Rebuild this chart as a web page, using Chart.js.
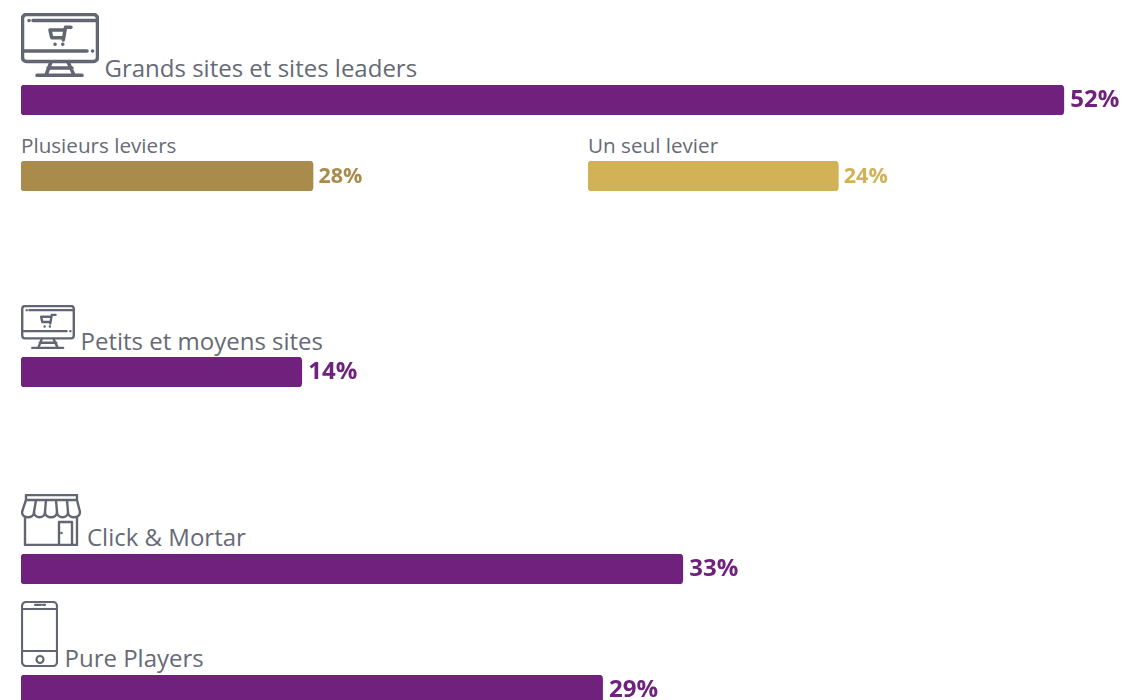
<!DOCTYPE html>
<html lang="fr">
<head>
<meta charset="utf-8">
<title>Grands sites et sites leaders</title>
<script src="https://cdn.jsdelivr.net/npm/chart.js@4"></script>
<style>
    html, body { margin: 0; padding: 0; background: #fff; }
    body { position: relative; width: 1122px; height: 700px; overflow: hidden; font-family: 'Open Sans', sans-serif; color: #666a76; }
    canvas { position: absolute; display: block; }
    svg { position: absolute; fill: none; stroke: #626672; stroke-width: 3.5; stroke-linecap: round; stroke-linejoin: round; }
    .label { position: absolute; white-space: nowrap; line-height: 30px; font-size: 24px; }
    .label.sub { font-size: 20.65px; }

    /* Rows */
    #label-0 { left: 104.5px; top: 53px; }
    #label-1 { left: 80.5px; top: 326px; }
    #label-2 { left: 87px; top: 522px; }
    #label-3 { left: 64.5px; top: 643px; }
    #sub-label-0 { left: 21px; top: 130px; }
    #sub-label-1 { left: 588px; top: 130px; }

    #bar-0 { left: 21px; top: 85px; }
    #bar-1 { left: 21px; top: 357px; }
    #bar-2 { left: 21px; top: 554px; }
    #bar-3 { left: 21px; top: 675px; }
    #sub-bar-0 { left: 21px; top: 161px; }
    #sub-bar-1 { left: 588px; top: 161px; }

    /* Icons */
    #icon-large { left: 21px; top: 13px; width: 78px; height: 64px; }
    #icon-small { left: 21px; top: 305px; width: 54px; height: 44px; }
    #icon-store { left: 21px; top: 494px; width: 60px; height: 52px; stroke-width: 2.4; }
    #icon-phone { left: 21px; top: 601px; width: 37px; height: 66px; stroke-width: 2.2; }
</style>
</head>
<body>
    <svg width="0" height="0" style="position:absolute">
        <symbol id="monitor" viewBox="0 0 78 64">
            <rect x="1.5" y="1.5" width="75" height="47" rx="4"/>
            <path d="M12 7.5H75M8 7.5H8.1M1.5 38H66M71.5 38H71.6"/>
            <path d="M30 49L25 62M47 49L53 62M16 62.3H61M27 55H51"/>
            <path d="M50 14.3H44.5L42.3 27M29 17H43.8M29 17L30.7 24.7H42.3M34 31.3H34.1M41.7 31.3H41.8"/>
        </symbol>
    </svg>

    <svg id="icon-large"><use href="#monitor"/></svg>
    <svg id="icon-small"><use href="#monitor"/></svg>
    <svg id="icon-store" viewBox="0 0 60 52">
        <path d="M5 1H56V6H5ZM5 6L1 18M56 6L59 18M15 6L13 18M25 6L24 18M35 6L36 18M46 6L47 18"/>
        <path d="M1 18C1 25 13 25 13 18C13 25 24 25 24 18C24 25 36 25 36 18C36 25 47 25 47 18C47 25 59 25 59 18"/>
        <path d="M4 23V51H56V23M38 51V28H51V51M40.5 39H40.6"/>
    </svg>
    <svg id="icon-phone" viewBox="0 0 37 66">
        <rect x="1" y="1" width="35" height="64" rx="4"/>
        <path d="M1 8H36M1 50H36M14 3.8H20M22 3.8H24"/>
        <circle cx="19" cy="58.5" r="3.5"/>
    </svg>

    <div class="label" id="label-0"></div>
    <div class="label" id="label-1"></div>
    <div class="label" id="label-2"></div>
    <div class="label" id="label-3"></div>
    <div class="label sub" id="sub-label-0"></div>
    <div class="label sub" id="sub-label-1"></div>

    <canvas id="bar-0"></canvas>
    <canvas id="bar-1"></canvas>
    <canvas id="bar-2"></canvas>
    <canvas id="bar-3"></canvas>
    <canvas id="sub-bar-0"></canvas>
    <canvas id="sub-bar-1"></canvas>

<script>
// Chart values
const mainLabels = ['Grands sites et sites leaders', 'Petits et moyens sites', 'Click & Mortar', 'Pure Players'];
const mainValues = [52, 14, 33, 29];
const subLabels = ['Plusieurs leviers', 'Un seul levier'];
const subValues = [28, 24];
const subColors = ['#a98b4c', '#d1b257'];

const PURPLE = '#6f217d';
const BAR_HEIGHT = 30;

// Percent label drawn just after the end of the bar
const valueLabelPlugin = {
    id: 'valueLabel',
    afterDatasetsDraw: (chart, args, opts) => {
        const bar = chart.getDatasetMeta(0).data[0];
        const ctx = chart.ctx;
        ctx.save();
        ctx.font = `bold ${opts.size}px "Open Sans"`;
        ctx.fillStyle = opts.color;
        ctx.textBaseline = 'middle';
        ctx.fillText(chart.data.datasets[0].data[0] + '%', bar.x + opts.gap, bar.y + 0.6);
        ctx.restore();
    }
};

// One single-bar chart per row, the axes stay hidden
const drawBar = (id, name, value, color, width, maxValue, fontSize, gap) => {
    const canvas = document.getElementById(id);
    canvas.width = width;
    canvas.height = BAR_HEIGHT;
    new Chart(canvas, {
        type: 'bar',
        data: {
            labels: [name],
            datasets: [{
                data: [value],
                backgroundColor: color,
                borderRadius: 4,
                borderSkipped: false,
                barThickness: BAR_HEIGHT
            }]
        },
        options: {
            indexAxis: 'y',
            responsive: false,
            animation: false,
            layout: { padding: 0 },
            plugins: {
                legend: { display: false },
                tooltip: { enabled: false },
                valueLabel: { size: fontSize, color: color, gap: gap }
            },
            scales: {
                x: { display: false, min: 0, max: maxValue },
                y: { display: false }
            }
        },
        plugins: [valueLabelPlugin]
    });
};

mainLabels.forEach((name, i) => {
    document.getElementById('label-' + i).textContent = name;
    drawBar('bar-' + i, name, mainValues[i], PURPLE, 1101, 54.9, 24, 6.5);
});

subLabels.forEach((name, i) => {
    document.getElementById('sub-label-' + i).textContent = name;
    drawBar('sub-bar-' + i, name, subValues[i], subColors[i], 534, 51.2, 21.5, 5.5);
});
</script>
</body>
</html>
